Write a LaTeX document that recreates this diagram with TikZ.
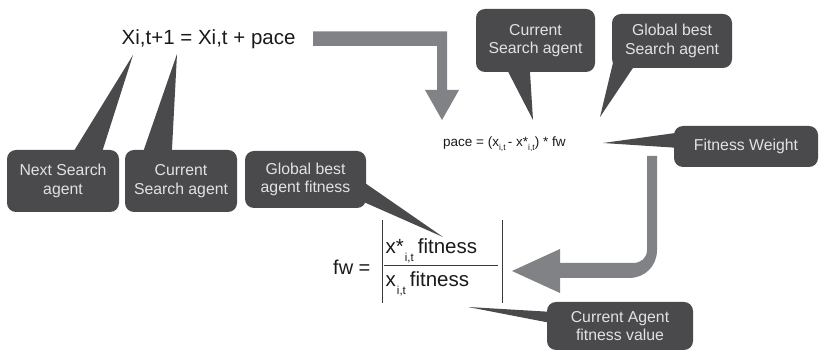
\documentclass[tikz,border=0pt]{standalone}
\usepackage{fontspec}
\setmainfont{Liberation Sans}
\usetikzlibrary{calc}
\definecolor{callout}{HTML}{4A4A4C}
\definecolor{calltext}{HTML}{E2E2E2}
\definecolor{flow}{HTML}{808285}
\definecolor{ink}{HTML}{1A1A1A}
\definecolor{rule}{HTML}{3A3A3A}
% lowered small index, as in x_{i,t}
\newcommand{\lowidx}[2]{\raisebox{-#1pt}{\fontsize{#2}{#2}\selectfont i,t}}
\begin{document}
\begin{tikzpicture}[x=1pt,y=-1pt,
  bubble/.style={fill=callout, text=calltext, rounded corners=9pt, align=center,
    inner sep=0pt, font=\fontsize{15.8}{18.5}\selectfont},
  ptr/.style={fill=callout},
  flowarrow/.style={fill=flow},
  eq/.style={text=ink, inner sep=0pt, anchor=base west},
  absbar/.style={draw=rule, line width=0.9pt}]
\useasboundingbox (0,0) rectangle (819,352);

% equations
\node[eq, font=\fontsize{20.5}{24}\selectfont] (upd) at (121.5,45) {Xi,t+1 = Xi,t + pace};
\node[eq, font=\fontsize{13.5}{16}\selectfont] (pace) at (443,147)
  {pace = (x\lowidx{3.5}{8.5}\,- x*\lowidx{3.5}{8.5}) * fw};
\node[eq, font=\fontsize{20}{24}\selectfont] (fwlhs) at (333,275) {fw =};
\node[eq, font=\fontsize{20.5}{24}\selectfont] (num) at (385.5,254) {x*\hspace{1pt}\lowidx{8}{11.5}\hspace{4pt}fitness};
\node[eq, font=\fontsize{20.5}{24}\selectfont] (den) at (385.5,287) {x\hspace{1pt}\lowidx{8}{11.5}\hspace{4pt}fitness};
\coordinate (absTL) at (382.5,220);
\coordinate (absBL) at (382.5,303);
\coordinate (absTR) at (502,220);
\coordinate (absBR) at (502,303);
\coordinate (fracL) at (384,265);
\coordinate (fracR) at (498,265);
\draw[absbar] (absTL) -- (absBL);
\draw[absbar] (absTR) -- (absBR);
\draw[draw=rule, line width=0.8pt] (fracL) -- (fracR);

% flow arrows
\fill[flowarrow] (313,31.5) -- (447,31.5) -- (447,90) -- (459,90) -- (442,120)
  -- (425,90) -- (437,90) -- (437,46) -- (313,46) -- cycle;
\fill[flowarrow] (647,156) -- (657,156) -- (657,250)
  .. controls (657,266) and (645,278) .. (629,278) -- (560,278) -- (560,293)
  -- (512,271) -- (560,249) -- (560,263) -- (633,263)
  .. controls (641,263) and (647,258) .. (647,250) -- cycle;

% callouts
\node[bubble, minimum width=112pt, minimum height=62pt] (nsa) at (63,181) {Next Search\\agent};
\node[bubble, minimum width=112pt, minimum height=62pt] (csa) at (181,181) {Current\\Search agent};
\node[bubble, minimum width=121pt, minimum height=57pt] (gbf) at (305.5,179.5) {Global best\\agent fitness};
\node[bubble, minimum width=119pt, minimum height=63pt] (csb) at (535.5,40.5) {Current\\Search agent};
\node[bubble, minimum width=120pt, minimum height=54pt] (gbs) at (672,41) {Global best\\Search agent};
\node[bubble, minimum width=144pt, minimum height=41pt] (fwt) at (746,146.5) {Fitness Weight};
\node[bubble, minimum width=146pt, minimum height=48pt] (caf) at (620,326) {Current Agent\\fitness value};

% pointer tips
\coordinate (tipNext) at (133,55);
\coordinate (tipCur) at (177,54);
\coordinate (tipBestFit) at (443,237);
\coordinate (tipCurAgent) at (533,120);
\coordinate (tipBest) at (600,117);
\coordinate (tipWeight) at (603,143);
\coordinate (tipCurFit) at (468,307);

\fill[ptr] ($(nsa.north west)+(66,3)$) -- (tipNext) -- ($(nsa.north west)+(95,3)$) -- cycle;
\fill[ptr] ($(csa.north west)+(18,3)$) -- (tipCur) -- ($(csa.north west)+(47,3)$) -- cycle;
\fill[ptr] ($(gbf.north east)+(-3,31)$) -- (tipBestFit) -- ($(gbf.north east)+(-3,51)$) -- cycle;
\fill[ptr] ($(csb.south west)+(31,-3)$) -- (tipCurAgent) -- ($(csb.south west)+(54,-3)$) -- cycle;
\fill[ptr] ($(gbs.south west)+(3,-13)$) -- (tipBest) -- ($(gbs.south west)+(23,-3)$) -- cycle;
\fill[ptr] ($(fwt.north west)+(3,7)$) -- (tipWeight) -- ($(fwt.north west)+(3,22)$) -- cycle;
\fill[ptr] ($(caf.north west)+(3,10)$) -- (tipCurFit) -- ($(caf.north west)+(3,21)$) -- cycle;
\end{tikzpicture}
\end{document}
